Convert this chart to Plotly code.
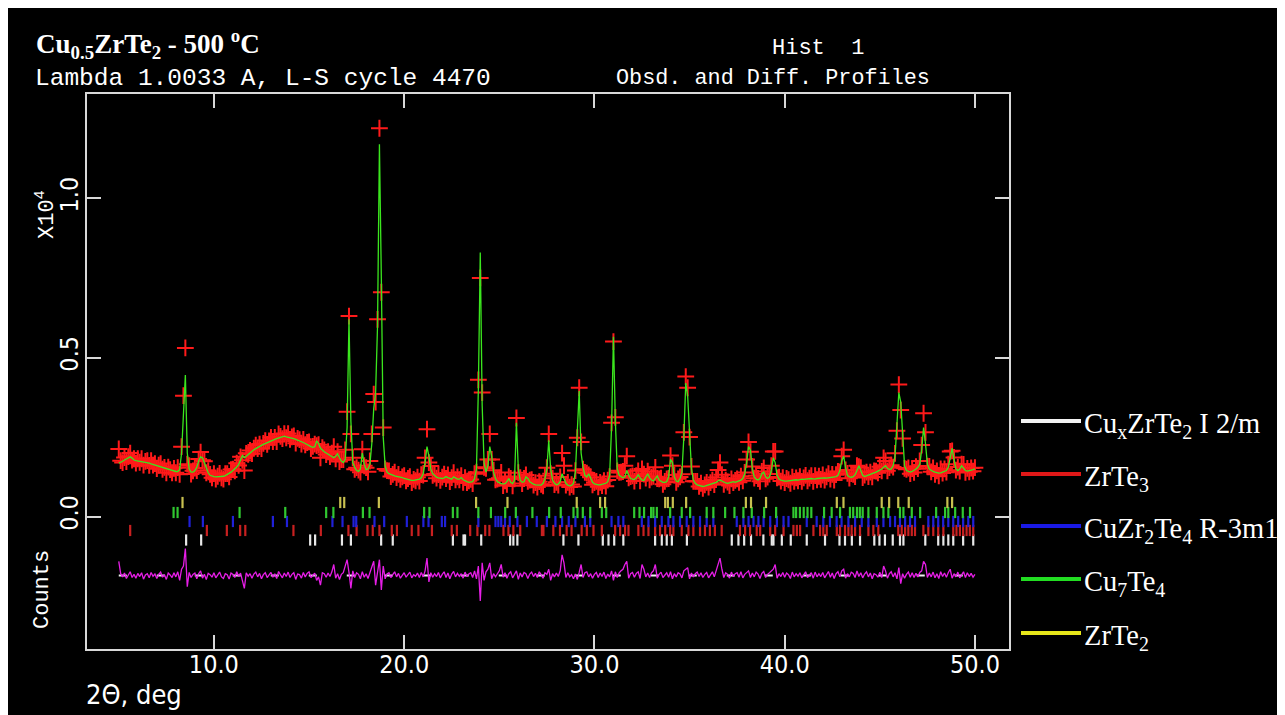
import numpy as np
import plotly.graph_objects as go

# ---------------- data (counts) ----------------
two_theta_start = 5.0
two_theta_step = 0.1

calc_counts = [
    1680,1700,1740,1780,1820,1860,1880,1840,1780,1760,
    1750,1740,1730,1730,1720,1700,1680,1660,1640,1620,
    1600,1580,1560,1540,1520,1500,1480,1460,1440,1430,
    1420,1420,1480,2000,3500,4450,2000,1500,1400,1400,
    1450,1550,1750,1880,1850,1700,1500,1380,1300,1270,
    1260,1250,1250,1250,1260,1270,1290,1320,1360,1400,
    1450,1500,1560,1640,1800,1920,1850,1900,1980,2020,
    2060,2100,2140,2180,2210,2240,2270,2300,2330,2360,
    2390,2410,2430,2450,2470,2500,2520,2530,2510,2500,
    2490,2470,2450,2430,2410,2390,2360,2330,2300,2260,
    2230,2200,2180,2200,2380,2300,2150,2080,2040,2000,
    1960,1920,1880,1850,1900,1980,1850,1750,1700,1800,
    2800,6200,3000,1700,1550,1450,1420,1500,2000,1650,
    1480,1500,1650,2300,3400,3900,6000,11700,7500,2500,
    1600,1400,1350,1320,1300,1280,1270,1260,1250,1230,
    1200,1180,1160,1150,1140,1140,1150,1160,1180,1220,
    1350,1700,2200,1900,1500,1350,1280,1240,1220,1210,
    1200,1220,1260,1230,1200,1180,1250,1200,1180,1180,
    1230,1160,1120,1100,1080,1080,1100,1200,1500,4000,
    8300,3500,1700,1400,1600,2200,1900,1400,1200,1100,
    1060,1040,1030,1040,1100,1200,1080,1040,1150,2950,
    1500,1150,1080,1100,1250,1200,1100,1050,1020,1000,
    990,980,990,1050,1200,1500,2400,1500,1150,1050,
    1000,1020,1100,1350,1200,1050,990,970,980,1050,
    1400,2600,3950,2000,1550,1300,1250,1350,1180,1080,
    1030,1010,1000,1000,1010,1020,1050,1100,1300,2800,
    5650,3000,1500,1300,1250,1220,1250,1450,1300,1200,
    1180,1170,1220,1320,1220,1150,1140,1250,1350,1220,
    1150,1120,1200,1280,1150,1100,1080,1080,1100,1250,
    1800,1700,1250,1120,1100,1200,1400,2500,4200,3800,
    2600,1500,1150,1050,1000,980,960,950,960,980,
    1000,1020,1030,1050,1080,1120,1150,1120,1080,1060,
    1050,1060,1080,1100,1080,1100,1130,1150,1200,1350,
    1700,2200,2100,1500,1250,1180,1150,1200,1350,1400,
    1250,1200,1250,1450,1850,1700,1300,1180,1150,1130,
    1120,1120,1130,1140,1130,1150,1160,1150,1170,1180,
    1170,1180,1190,1180,1200,1190,1180,1200,1210,1200,
    1210,1220,1210,1220,1230,1250,1240,1260,1300,1450,
    1750,1900,1550,1300,1250,1240,1260,1320,1450,1600,
    1450,1300,1260,1280,1300,1320,1350,1380,1400,1430,
    1460,1500,1550,1600,1520,1480,1500,1600,1900,2800,
    3900,3600,2400,1600,1450,1420,1400,1420,1450,1500,
    1550,1650,2100,2800,2300,1650,1500,1450,1420,1400,
    1380,1370,1380,1400,1420,1450,1550,1850,2150,1800,
    1500,1450,1500,1600,1520,1450,1430,1440,1460,1480,
    1500,
]

obs_minus_calc = [
    450,60,-40,80,-90,30,120,-60,40,-80,
    70,-30,90,-110,20,60,-70,100,-20,50,
    -90,40,110,-50,30,-120,80,20,-60,90,
    -40,120,-150,200,300,850,-350,100,-60,40,
    80,-100,60,150,-80,40,-120,70,30,-50,
    90,-70,20,110,-40,-90,60,30,-110,80,
    40,-60,120,-30,80,-150,-400,90,-20,60,
    -80,50,110,-40,70,-100,30,90,-60,20,
    100,-50,60,-90,130,20,-70,80,-30,110,
    -60,40,90,-120,50,30,-80,100,-40,70,
    120,-60,30,80,-150,-40,-300,90,60,-50,
    80,-30,120,350,-80,60,-120,40,90,300,
    500,100,-400,150,-60,90,40,-100,120,-50,
    60,-90,100,300,450,-300,200,500,-450,300,
    -100,50,90,-60,30,120,-40,70,-80,20,
    90,-50,40,110,-70,30,-20,80,-60,100,
    -40,150,550,-200,90,-50,60,-30,100,-70,
    40,120,-60,80,-100,50,130,-40,70,-20,
    60,-80,110,-30,50,90,-60,150,-100,300,
    -800,400,-150,120,200,400,-100,60,-40,80,
    150,350,-50,90,-80,60,120,-70,40,150,
    -120,80,-40,100,60,-90,50,110,-30,70,
    -60,120,30,-80,90,40,200,-150,60,-40,
    80,-30,150,650,400,-60,90,-40,30,-100,
    50,-120,100,350,-60,90,120,-40,60,-80,
    40,100,-60,80,-30,110,-90,50,-40,150,
    -150,120,-60,90,150,200,350,450,-80,60,
    100,-50,70,120,-90,350,200,-40,80,-60,
    90,150,350,-80,40,110,-60,30,90,-50,
    120,-100,60,-40,90,50,-70,150,200,250,
    -100,80,-40,60,110,-30,90,-60,40,100,
    -70,50,120,-40,150,350,550,200,-60,90,
    40,-80,110,-30,60,90,-50,120,-70,40,
    100,150,-60,80,-40,110,50,-90,70,130,
    -60,40,90,150,200,350,-80,60,-30,100,
    -50,80,30,-90,110,-40,60,-20,90,-70,
    50,120,-60,30,90,-80,110,-40,60,-30,
    100,-70,40,130,-50,80,-90,60,120,-40,
    150,200,-80,60,-40,110,70,-60,150,-30,
    90,-70,50,120,-40,80,-100,60,30,-50,
    110,-60,300,150,-80,60,120,-40,90,-100,
    250,-250,60,-80,40,110,-50,90,-60,70,
    -40,100,150,450,350,-60,80,-40,110,-70,
    60,-90,120,-30,80,-50,100,200,-80,60,
    -40,110,-70,50,120,-60,90,-30,70,-50,
    40,
]

# reflection positions (2-theta, deg) for each phase
refl_CuxZrTe2 = [8.54, 9.33, 15.06, 15.32, 16.73, 17.2, 18.79, 19.4, 22.56, 23.12, 23.2,
                 24.05, 25.57, 25.74, 25.95, 28.37, 29.16, 30.44, 30.74, 31.04, 31.52,
                 33.19, 33.54, 33.8, 34.07, 34.86, 37.22, 37.57, 37.87, 38.23, 38.88,
                 39.32, 39.41, 39.85, 40.32, 41.16, 42.12, 42.88, 43.17, 43.53, 43.96,
                 44.71, 44.98, 45.27, 45.68, 46.06, 46.24, 47.39, 48.07, 48.34, 48.6,
                 48.86, 49.38, 49.91]
refl_ZrTe3 = [5.6, 9.63, 10.68, 11.38, 11.65, 14.18, 15.62, 17.07, 17.5, 18.07, 18.35,
              18.7, 19.35, 19.62, 20.4, 20.75, 21.46, 22.5, 22.77, 23.47, 23.85, 24.26,
              24.48, 25.22, 25.48, 25.74, 26.1, 27.24, 27.32, 27.84, 28.19, 28.54, 28.8,
              29.33, 29.6, 29.95, 30.39, 31.09, 31.35, 31.61, 31.79, 32.31, 32.58, 32.84,
              33.19, 33.45, 33.72, 33.98, 34.15, 34.59, 34.94, 35.2, 35.55, 35.81, 36.07,
              36.33, 36.69, 37.65, 37.92, 38.18, 38.53, 38.71, 39.24, 39.5, 39.94, 40.46,
              40.64, 40.81, 41.51, 41.86, 42.03, 42.21, 42.74, 42.91, 43.17, 43.35, 43.52,
              43.7, 43.96, 44.4, 44.66, 44.92, 45.97, 46.15, 46.33, 46.5, 46.68, 46.85,
              47.29, 47.55, 47.81, 48.07, 48.34, 48.86, 49.03, 49.21, 49.38, 49.56, 49.73,
              49.91]
refl_CuZr2Te4 = [8.72, 9.42, 11.0, 13.1, 13.84, 16.23, 16.76, 17.34, 17.48, 18.44, 18.95,
                 20.14, 21.01, 21.28, 21.98, 22.15, 23.9, 24.8, 24.95, 25.1, 25.3, 25.55,
                 25.95, 26.45, 26.97, 27.5, 27.95, 28.3, 28.65, 29.0, 29.5, 29.78, 30.9,
                 31.26, 31.52, 32.49, 32.84, 33.19, 33.54, 33.89, 34.15, 34.5, 34.85, 35.2,
                 35.55, 35.9, 36.25, 37.48, 37.83, 38.1, 38.36, 38.62, 38.89, 39.24, 39.59,
                 39.94, 40.2, 41.16, 41.68, 42.03, 42.38, 42.73, 42.99, 43.35, 43.7, 44.05,
                 44.4, 44.84, 45.19, 45.54, 45.8, 46.06, 46.33, 46.59, 46.85, 47.55, 47.81,
                 48.07, 48.33, 48.6, 48.86, 49.12, 49.38, 49.65, 49.91]
refl_Cu7Te4 = [7.88, 8.09, 11.35, 13.75, 15.9, 16.28, 17.83, 18.18, 21.05, 21.33, 22.56,
               22.8, 23.9, 24.56, 25.31, 25.87, 26.74, 27.62, 28.23, 28.9, 29.11, 29.39,
               29.78, 30.39, 30.62, 32.09, 32.37, 32.61, 32.98, 33.1, 33.28, 33.98, 34.59,
               35.03, 35.9, 36.25, 36.87, 37.36, 37.83, 38.27, 38.92, 39.55, 40.46, 40.6,
               40.8, 41.0, 41.2, 41.4, 42.07, 42.47, 42.91, 43.43, 43.6, 43.8, 43.95, 44.1,
               44.4, 44.84, 45.19, 45.45, 46.06, 46.24, 46.68, 47.12, 47.96, 48.43, 48.6,
               48.96, 49.36, 49.74]
refl_ZrTe2 = [8.35, 16.64, 16.85, 18.67, 23.78, 25.43, 29.07, 30.3, 30.56, 33.72, 33.86,
              34.12, 34.82, 37.96, 38.23, 39.02, 42.74, 43.09, 45.1, 45.49, 45.97, 46.52,
              48.55, 48.8]

phase_names = ["Cu<sub>x</sub>ZrTe<sub>2</sub> I 2/m", "ZrTe<sub>3</sub>",
               "CuZr<sub>2</sub>Te<sub>4</sub> R-3m1", "Cu<sub>7</sub>Te<sub>4</sub>",
               "ZrTe<sub>2</sub>"]
phase_refls = [refl_CuxZrTe2, refl_ZrTe3, refl_CuZr2Te4, refl_Cu7Te4, refl_ZrTe2]

x_tick_vals = [10, 20, 30, 40, 50]
x_tick_text = ["10.0", "20.0", "30.0", "40.0", "50.0"]
y_tick_vals = [0, 5000, 10000]
y_tick_text = ["0.0", "0.5", "1.0"]

# ---------------- styles ----------------
phase_colors = ["#f2f2f2", "#e01818", "#1a1ae6", "#22dd22", "#e6e61a"]
tick_colors = ["#e8e8e8", "#c82020", "#2020d8", "#30c830", "#c8c050"]
phase_row_offset = [-732, -433, -151, 132, 446]
diff_offset = -1850

# the page body adds an 8 px margin; figure coordinates = page coordinates - 8
OFF = 8
W, H = 1285 - OFF, 715 - OFF
L, R, T, B = 87 - OFF, 1009 - OFF, 94 - OFF, 649 - OFF

x = np.round(two_theta_start + two_theta_step * np.arange(len(calc_counts)), 2)
calc = np.array(calc_counts, dtype=float)
resid = np.array(obs_minus_calc, dtype=float)
obs = calc + resid
diff = resid + diff_offset

fig = go.Figure()

# reflection tick rows
for refl, col, off in zip(phase_refls, tick_colors, phase_row_offset):
    fig.add_trace(go.Scatter(
        x=refl, y=[off] * len(refl), mode="markers",
        marker=dict(symbol="line-ns", size=8, line=dict(color=col, width=2.2)),
        hoverinfo="skip", showlegend=False))

# observed
fig.add_trace(go.Scatter(
    x=x, y=obs, mode="markers",
    marker=dict(symbol="cross-thin", size=12, line=dict(color="#ff1a1a", width=2)),
    showlegend=False))
# calculated
fig.add_trace(go.Scatter(
    x=x, y=calc, mode="lines", line=dict(color="#3be61e", width=1.3),
    showlegend=False))
# difference zero line
fig.add_trace(go.Scatter(
    x=[x[0], x[-1]], y=[diff_offset, diff_offset], mode="lines",
    line=dict(color="#f0f0f0", width=2, dash="8px,30px"), showlegend=False))
# difference
fig.add_trace(go.Scatter(
    x=x, y=diff, mode="lines", line=dict(color="#e61ee6", width=1.3),
    showlegend=False))


def px(xp):  # page pixel -> paper fraction
    return (xp - OFF - L) / (R - L)


def py(yp):
    return (B - (yp - OFF)) / (B - T)


x_range = [3.33, 51.79]
y_range = [-4155, 13276]

axis_common = dict(showline=True, linecolor="#d8d8d8", linewidth=2, mirror="ticks",
                   ticks="inside", ticklen=14, tickwidth=2, tickcolor="#d8d8d8",
                   showgrid=False, zeroline=False)
narrow = "Liberation Sans Narrow, DejaVu Sans Condensed"

fig.update_xaxes(range=x_range, tickvals=x_tick_vals, ticktext=x_tick_text,
                 tickfont=dict(family=narrow, size=25, color="white"),
                 ticklabelstandoff=-8, **axis_common)
fig.update_yaxes(range=y_range, tickvals=y_tick_vals, ticktext=y_tick_text,
                 tickangle=-90, ticklabelstandoff=-3,
                 tickfont=dict(family=narrow, size=25, color="white"),
                 **axis_common)

mono = "Liberation Mono, DejaVu Sans Mono"
annotations = [
    dict(text="<b>Cu<sub>0.5</sub>ZrTe<sub>2</sub> - 500 <sup>o</sup>C</b>", x=px(34), y=py(44),
         xanchor="left", yanchor="middle",
         font=dict(family="Liberation Serif", size=27, color="white")),
    dict(text="Lambda 1.0033 A, L-S cycle 4470", x=px(33), y=py(78),
         xanchor="left", yanchor="middle", font=dict(family=mono, size=24.5, color="white")),
    dict(text="Hist  1", x=px(770), y=py(49),
         xanchor="left", yanchor="middle", font=dict(family=mono, size=22, color="white")),
    dict(text="Obsd. and Diff. Profiles", x=px(614), y=py(78),
         xanchor="left", yanchor="middle", font=dict(family=mono, size=21.8, color="white")),
    dict(text="X10<sup>4</sup>", x=px(45), y=py(215), textangle=-90,
         xanchor="center", yanchor="middle", font=dict(family=mono, size=22, color="white")),
    dict(text="Counts", x=px(42), y=py(590), textangle=-90,
         xanchor="center", yanchor="middle", font=dict(family=mono, size=22, color="white")),
    dict(text="2\u0398, deg", x=px(84), y=py(694),
         xanchor="left", yanchor="middle",
         font=dict(family=narrow, size=27, color="white")),
]

shapes = []
legend_y = [421, 474, 526, 579, 633]
for name, col, ly in zip(phase_names, phase_colors, legend_y):
    shapes.append(dict(type="line", xref="paper", yref="paper",
                       x0=px(1021), x1=px(1081), y0=py(ly), y1=py(ly),
                       line=dict(color=col, width=4)))
    annotations.append(dict(text=name, x=px(1082), y=py(ly + 4), xanchor="left",
                            yanchor="middle",
                            font=dict(family="Liberation Serif", size=28.5, color="white")))

for a in annotations:
    a.update(xref="paper", yref="paper", showarrow=False)

fig.update_layout(width=W, height=H, margin=dict(l=L, r=W - R, t=T, b=H - B),
                  paper_bgcolor="black", plot_bgcolor="black",
                  annotations=annotations, shapes=shapes, showlegend=False)

fig.write_html("out.html")
